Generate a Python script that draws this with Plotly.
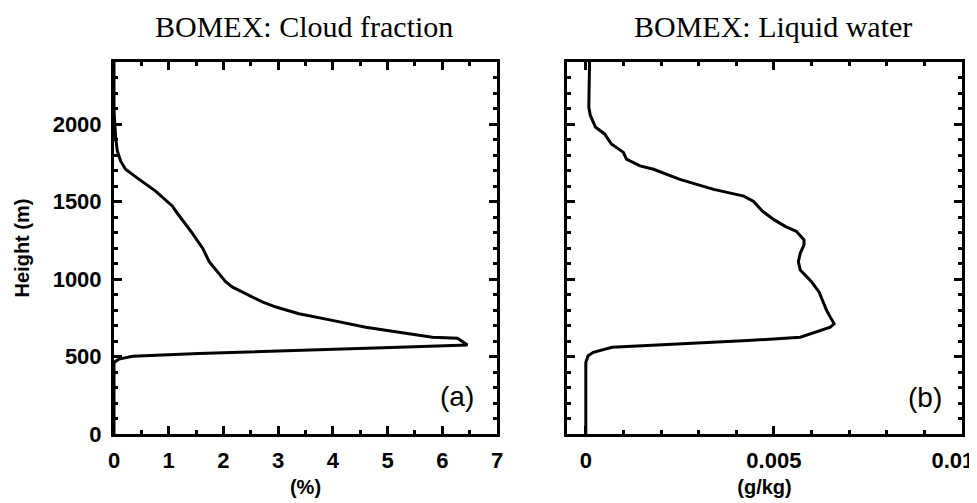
import plotly.graph_objects as go

# Panel (a): cloud fraction (%) vs height (m)
cf_height = [2400, 2200, 2088, 1914, 1827, 1762, 1708, 1643, 1567, 1470, 1437, 1296, 1199, 1112,
             1036, 982, 949, 906, 852, 819, 776, 733, 689, 657, 624, 618, 596, 574,
             559, 538, 520, 501, 483, 462, 300, 0]
cf_value = [0, 0, 0, 0.03, 0.06, 0.12, 0.21, 0.46, 0.76, 1.07, 1.13, 1.43, 1.62, 1.74,
            1.92, 2.04, 2.16, 2.41, 2.71, 2.96, 3.38, 3.99, 4.60, 5.21, 5.82, 6.28, 6.37, 6.46,
            5.21, 3.38, 1.55, 0.34, 0.09, 0, 0, 0]

# Panel (b): liquid water (g/kg) vs height (m)
lw_height = [2400, 2174, 2109, 2055, 1979, 1936, 1871, 1817, 1773, 1730, 1708, 1643, 1578, 1535,
             1502, 1437, 1383, 1340, 1307, 1253, 1220, 1166, 1112, 1058, 982, 917, 852, 798,
             754, 711, 689, 672, 624, 603, 581, 559, 527, 505, 462, 0]
lw_value = [0.0001, 0.0001, 0.00008, 0.00012, 0.00026, 0.0005, 0.00068, 0.001, 0.00108, 0.00144,
            0.0018, 0.0025, 0.0034, 0.0042, 0.00445, 0.0047, 0.005, 0.0053, 0.0056, 0.0058,
            0.0058, 0.0057, 0.00565, 0.0057, 0.006, 0.0062, 0.0063, 0.0064, 0.0065, 0.0066,
            0.0065, 0.0063, 0.0057, 0.0043, 0.0025, 0.0007, 0.0002, 0.00006, 0, 0]

cf_ticks = [0, 1, 2, 3, 4, 5, 6, 7]
lw_ticks = [0, 0.005, 0.01]
lw_ticklabels = ["0", "0.005", "0.01"]
height_ticks = [0, 500, 1000, 1500, 2000]

# page body has an 8px default margin; size the figure to fill the rest of the window
OFF = 8
W, H = 977 - OFF, 503 - OFF


def fx(px):
    return (px - OFF) / W


def fy(py):
    return 1 - (py - OFF) / H


fig = go.Figure()
line = dict(color="black", width=3)
fig.add_trace(go.Scatter(x=cf_value, y=cf_height, mode="lines", line=line,
                         xaxis="x", yaxis="y", showlegend=False))
fig.add_trace(go.Scatter(x=lw_value, y=lw_height, mode="lines", line=line,
                         xaxis="x2", yaxis="y2", showlegend=False))

tickfont = dict(family="Liberation Sans", size=22, color="black")
titlefont = dict(family="Liberation Sans", size=20, color="black")
common = dict(showline=True, linecolor="black", linewidth=3, mirror="allticks",
              ticks="inside", ticklen=8, tickwidth=2.5, tickcolor="black",
              showgrid=False, zeroline=False, tickfont=tickfont, ticklabelstandoff=5,
              automargin=False, ticklabeloverflow="allow")

# last label kept inside the window (trailing spaces shift its centre left)
lw_text = ["<b>%s</b>" % t for t in lw_ticklabels]
lw_text[-1] = lw_text[-1] + "&nbsp;&nbsp;&nbsp;"

fig.update_layout(
    width=W, height=H,
    margin=dict(l=0, r=0, t=0, b=0),
    paper_bgcolor="white", plot_bgcolor="white",
    xaxis=dict(domain=[fx(114), fx(497)], range=[0, 7], anchor="y",
               tickvals=cf_ticks, ticktext=["<b>%d</b>" % v for v in cf_ticks],
               minor=dict(ticks="inside", ticklen=4, tickwidth=2.5, dtick=0.5, tickcolor="black"),
               title=dict(text="<b>(%)</b>", font=titlefont, standoff=8), **common),
    yaxis=dict(domain=[fy(434), fy(62)], range=[0, 2400], anchor="x",
               tickvals=height_ticks, ticktext=["<b>%d</b>" % v for v in height_ticks],
               minor=dict(ticks="inside", ticklen=4, tickwidth=2.5, dtick=100, tickcolor="black"),
               title=dict(text="<b>Height (m)</b>", font=titlefont, standoff=18), **common),
    xaxis2=dict(domain=[fx(567), fx(962)], range=[-0.0005, 0.01], anchor="y2",
                tickvals=lw_ticks, ticktext=lw_text,
                minor=dict(ticks="inside", ticklen=4, tickwidth=2.5, dtick=0.001, tick0=0, tickcolor="black"),
                title=dict(text="<b>(g/kg)</b>", font=titlefont, standoff=8), **common),
    yaxis2=dict(domain=[fy(434), fy(62)], range=[0, 2400], anchor="x2",
                tickvals=height_ticks, showticklabels=False,
                minor=dict(ticks="inside", ticklen=4, tickwidth=2.5, dtick=100, tickcolor="black"),
                **common),
    annotations=[
        dict(text="BOMEX: Cloud fraction", x=fx(304), y=fy(26), xref="paper", yref="paper",
             xanchor="center", yanchor="middle", showarrow=False,
             font=dict(family="Liberation Serif", size=30, color="black")),
        dict(text="BOMEX: Liquid water", x=fx(773), y=fy(26), xref="paper", yref="paper",
             xanchor="center", yanchor="middle", showarrow=False,
             font=dict(family="Liberation Serif", size=30, color="black")),
        dict(text="(a)", x=fx(457), y=fy(396), xref="paper", yref="paper",
             xanchor="center", yanchor="middle", showarrow=False,
             font=dict(family="Liberation Sans", size=28, color="black")),
        dict(text="(b)", x=fx(925), y=fy(397), xref="paper", yref="paper",
             xanchor="center", yanchor="middle", showarrow=False,
             font=dict(family="Liberation Sans", size=28, color="black")),
    ],
)

fig.write_html("out.html")
